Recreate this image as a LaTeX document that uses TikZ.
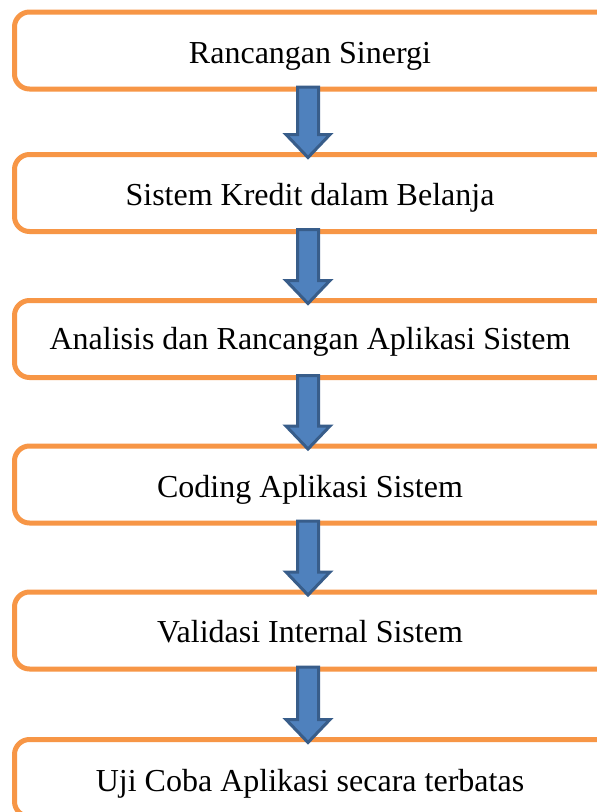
\documentclass[tikz,border=0pt]{standalone}
\usepackage{fontspec}
\setmainfont{Liberation Serif}
\usetikzlibrary{calc}
\definecolor{boxorange}{HTML}{F79646}
\definecolor{arrowfill}{HTML}{4F81BD}
\definecolor{arrowline}{HTML}{385D8A}
\tikzset{
  stagebox/.style={draw=boxorange, line width=5pt, rounded corners=15pt,
    rectangle, minimum width=640pt, minimum height=77pt, outer sep=0pt,
    inner sep=0pt, anchor=north west},
  stagetext/.style={font=\fontsize{32}{36}\selectfont, anchor=base, inner sep=0pt},
  blockarrow/.style={fill=arrowfill, draw=arrowline, line width=3pt, line join=miter}
}
% down arrow from the bottom of box #1 to the top of box #2
\newcommand{\flowarrow}[2]{%
  \path let \p1=(#1.south), \p2=(#2.north) in
    [blockarrow] (297.5pt,\y1+2pt) -- (318.5pt,\y1+2pt) -- (318.5pt,\y2+20pt)
    -- (330pt,\y2+20pt) -- (308pt,\y2-3pt) -- (286pt,\y2+20pt)
    -- (297.5pt,\y2+20pt) -- cycle;}
\begin{document}
\begin{tikzpicture}[x=1pt,y=-1pt]
\useasboundingbox (0,0) rectangle (597,812);
\clip (0,0) rectangle (597,812);
\fill[white] (0,0) rectangle (597,812);

\node[stagebox] (b1) at (14.5,12) {};
\node[stagebox] (b2) at (14.5,154.5) {};
\node[stagebox] (b3) at (14.5,300.5) {};
\node[stagebox] (b4) at (14.5,446) {};
\node[stagebox] (b5) at (14.5,592) {};
\node[stagebox] (b6) at (14.5,739.5) {};

\node[stagetext] (t1) at (310,63) {Rancangan Sinergi};
\node[stagetext] (t2) at (310,205) {Sistem Kredit dalam Belanja};
\node[stagetext] (t3) at (310,349) {Analisis dan Rancangan Aplikasi Sistem};
\node[stagetext] (t4) at (310,497) {Coding Aplikasi Sistem};
\node[stagetext] (t5) at (310,642) {Validasi Internal Sistem};
\node[stagetext] (t6) at (310,791) {Uji Coba Aplikasi secara terbatas};

\flowarrow{b1}{b2}
\flowarrow{b2}{b3}
\flowarrow{b3}{b4}
\flowarrow{b4}{b5}
\flowarrow{b5}{b6}
\end{tikzpicture}
\end{document}
